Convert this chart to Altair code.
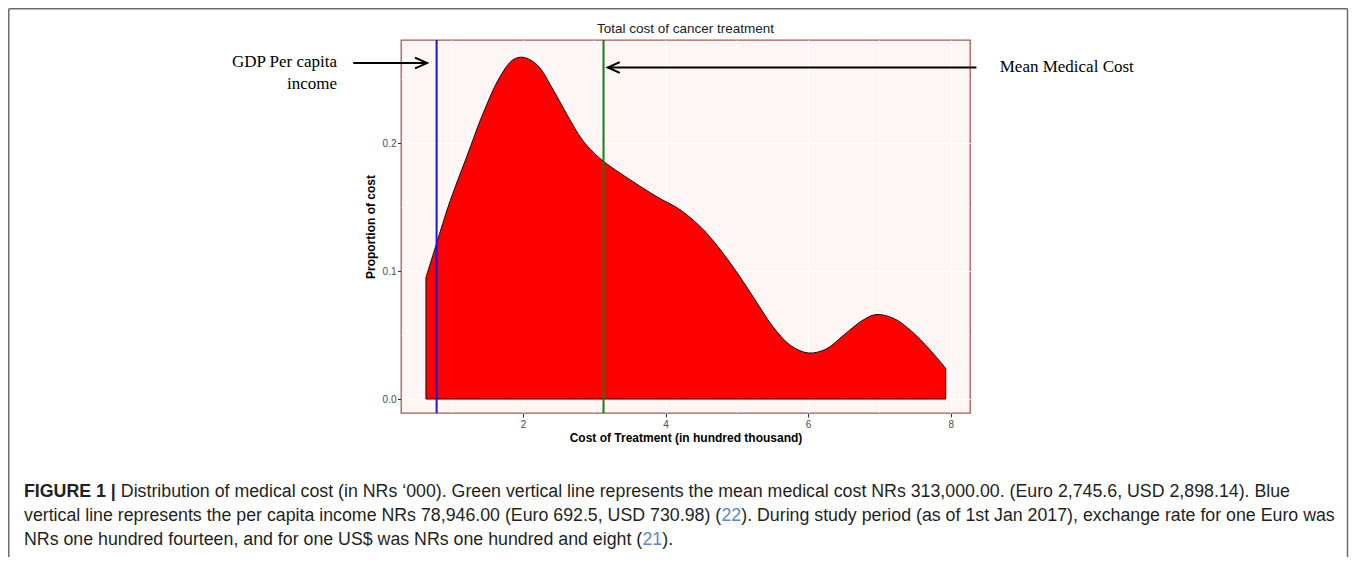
import altair as alt
import pandas as pd

# ---------------- data ----------------
cost_x = [0.64, 0.78, 0.98, 1.21, 1.44, 1.68, 1.86, 2.00, 2.20, 2.42, 2.62, 2.84,
          3.08, 3.54, 3.88, 4.20, 4.50, 4.75, 5.00, 5.25, 5.50, 5.75, 6.00,
          6.25, 6.50, 6.75, 6.95, 7.20, 7.45, 7.70, 7.93]
density = [0.095, 0.120, 0.155, 0.189, 0.223, 0.252, 0.265, 0.267, 0.261, 0.242, 0.222, 0.202,
           0.188, 0.170, 0.158, 0.148, 0.134, 0.118, 0.099, 0.078, 0.057, 0.042, 0.036,
           0.039, 0.050, 0.061, 0.066, 0.063, 0.053, 0.039, 0.024]
gdp_income = [0.78946]
mean_cost = [3.13]
x_ticks = [2, 4, 6, 8]
y_ticks = [0.0, 0.1, 0.2]
x_minor = [1, 3, 5, 7]
y_minor = [0.05, 0.15, 0.25]

chart_title = "Total cost of cancer treatment"
x_title = "Cost of Treatment (in hundred thousand)"
y_title = "Proportion of cost"
gdp_label = ["GDP Per capita", "income"]
mean_label = ["Mean Medical Cost"]

caption_lines = [
    [("FIGURE 1 |", "bold", "ink"),
     (" Distribution of medical cost (in NRs \u2018000). Green vertical line represents the mean medical cost NRs 313,000.00. (Euro 2,745.6, USD 2,898.14). Blue", "normal", "ink")],
    [("vertical line represents the per capita income NRs 78,946.00 (Euro 692.5, USD 730.98) (", "normal", "ink"),
     ("22", "normal", "ref"),
     ("). During study period (as of 1st Jan 2017), exchange rate for one Euro was", "normal", "ink")],
    [("NRs one hundred fourteen, and for one US$ was NRs one hundred and eight (", "normal", "ink"),
     ("21", "normal", "ref"),
     (").", "normal", "ink")],
]

# ---------------- layout / style ----------------
W, H = 569, 373
PAD = {"left": 393, "top": 32, "right": 379, "bottom": 144}
X_DOMAIN = [0.29, 8.27]
Y_DOMAIN = [-0.0109, 0.2805]
SANS = "Liberation Sans"
SERIF = "Liberation Serif"
INK = "#231F20"
REF = "#5B87C5"

xs = alt.Scale(domain=X_DOMAIN, nice=False, zero=False)
ys = alt.Scale(domain=Y_DOMAIN, nice=False, zero=False)

# Helvetica/Arial advance widths (per 1000 em) for caption layout
REG = {" ": 278, "(": 333, ")": 333, ",": 278, ".": 278, "\u2018": 222, "$": 556, "|": 260, "-": 333}
for c in "0123456789":
    REG[c] = 556
REG.update(dict(zip("ABCDEFGHIJKLMNOPQRSTUVWXYZ",
                    [667, 667, 722, 722, 667, 611, 778, 722, 278, 500, 667, 556, 833, 722, 778, 667,
                     778, 722, 667, 611, 722, 667, 944, 667, 667, 611])))
REG.update(dict(zip("abcdefghijklmnopqrstuvwxyz",
                    [556, 556, 500, 556, 556, 278, 556, 556, 222, 222, 500, 222, 833, 556, 556, 556,
                     556, 333, 500, 278, 556, 500, 722, 500, 500, 500])))
BOLD = {" ": 278, "F": 611, "I": 278, "G": 778, "U": 722, "R": 722, "E": 667, "1": 556, "|": 280}


def em_width(s, bold=False):
    tbl = BOLD if bold else REG
    return sum(tbl.get(ch, 556) for ch in s) / 1000.0


line2_em = sum(em_width(t, w == "bold") for t, w, _ in caption_lines[1])
CAP_FS = 1311.0 / line2_em
CAP_X0 = 24 - 401
CAP_Y = [492 - 40, 516 - 40, 540 - 40]

x_axis = alt.Axis(values=x_ticks, format="d", title=x_title, grid=True, gridColor="white",
                  gridWidth=1.2, domain=False, tickColor="#333333", tickSize=4,
                  labelColor="#4D4D4D", labelFont=SANS, labelFontSize=10, labelPadding=2,
                  labelFlush=False, labelOverlap=False,
                  titleFont=SANS, titleFontSize=12, titleFontWeight="bold", titleColor="black",
                  titlePadding=3)
y_axis = alt.Axis(values=y_ticks, format=".1f", title=y_title, grid=True, gridColor="white",
                  gridWidth=1.2, domain=False, tickColor="#333333", tickSize=3.5,
                  labelColor="#4D4D4D", labelFont=SANS, labelFontSize=10, labelPadding=1.5,
                  labelFlush=False, labelOverlap=False,
                  titleFont=SANS, titleFontSize=12, titleFontWeight="bold", titleColor="black",
                  titlePadding=5)

layers = []

# density area (carries the axes)
dens_df = pd.DataFrame({"cost": cost_x, "density": density})
area = alt.Chart(dens_df).mark_area(
    fill="#FF0000", fillOpacity=1, stroke="#1a0a0a", strokeWidth=1, interpolate="catmull-rom"
).encode(
    x=alt.X("cost:Q", scale=xs, axis=x_axis),
    y=alt.Y("density:Q", scale=ys, axis=y_axis),
    y2=alt.datum(0),
)

# minor grid
layers.append(alt.Chart(pd.DataFrame({"cost": x_minor})).mark_rule(color="white", strokeWidth=0.6).encode(
    x=alt.X("cost:Q", scale=xs, axis=x_axis)))
layers.append(alt.Chart(pd.DataFrame({"density": y_minor})).mark_rule(color="white", strokeWidth=0.6).encode(
    y=alt.Y("density:Q", scale=ys, axis=y_axis)))
layers.append(area)

# vertical reference lines
layers.append(alt.Chart(pd.DataFrame({"cost": gdp_income})).mark_rule(color="#1414E6", strokeWidth=2).encode(
    x=alt.X("cost:Q", scale=xs, axis=x_axis)))
layers.append(alt.Chart(pd.DataFrame({"cost": mean_cost})).mark_rule(color="#1A7A1A", strokeWidth=2).encode(
    x=alt.X("cost:Q", scale=xs, axis=x_axis)))

# annotation arrows (data coordinates)
arrows = pd.DataFrame({"cost": [-0.38, 8.36], "x2": [0.655, 3.19], "density": [0.2625, 0.259]})
layers.append(alt.Chart(arrows).mark_rule(color="black", strokeWidth=2).encode(
    x=alt.X("cost:Q", scale=xs, axis=x_axis), x2="x2:Q", y=alt.Y("density:Q", scale=ys, axis=y_axis)))
head_r = pd.DataFrame({"cost": [0.655], "density": [0.2625]})
head_l = pd.DataFrame({"cost": [3.19], "density": [0.259]})
chev_r = "M -1 -0.45 L 0 0 L -1 0.45"
chev_l = "M 1 -0.45 L 0 0 L 1 0.45"
layers.append(alt.Chart(head_r).mark_point(shape=chev_r, filled=False, color="black", strokeWidth=2,
                                           size=576, opacity=1).encode(
    x=alt.X("cost:Q", scale=xs, axis=x_axis), y=alt.Y("density:Q", scale=ys, axis=y_axis)))
layers.append(alt.Chart(head_l).mark_point(shape=chev_l, filled=False, color="black", strokeWidth=2,
                                           size=576, opacity=1).encode(
    x=alt.X("cost:Q", scale=xs, axis=x_axis), y=alt.Y("density:Q", scale=ys, axis=y_axis)))

# annotation labels
gdp_df = pd.DataFrame({"t": gdp_label, "cost": [-0.607, -0.607], "density": [0.2633, 0.2461]})
layers.append(alt.Chart(gdp_df).mark_text(align="right", baseline="middle", font=SERIF, fontSize=17,
                                          color="black").encode(
    x=alt.X("cost:Q", scale=xs, axis=x_axis), y=alt.Y("density:Q", scale=ys, axis=y_axis), text="t:N"))
mean_df = pd.DataFrame({"t": mean_label, "cost": [8.687], "density": [0.2594]})
layers.append(alt.Chart(mean_df).mark_text(align="left", baseline="middle", font=SERIF, fontSize=17,
                                           color="black").encode(
    x=alt.X("cost:Q", scale=xs, axis=x_axis), y=alt.Y("density:Q", scale=ys, axis=y_axis), text="t:N"))

# plot title (as text so the outer frame does not push it away)
layers.append(alt.Chart(pd.DataFrame({"t": [chart_title]})).mark_text(
    align="center", baseline="middle", font=SANS, fontSize=13.5, color="#222222").encode(
    x=alt.value(W / 2), y=alt.value(-11), text="t:N"))

# caption
for li, segs in enumerate(caption_lines):
    cx = CAP_X0
    for text, weight, col in segs:
        lead = len(text) - len(text.lstrip(" "))
        cx += em_width(text[:lead]) * CAP_FS
        body = text.lstrip(" ")
        layers.append(alt.Chart(pd.DataFrame({"t": [body]})).mark_text(
            align="left", baseline="middle", font=SANS, fontSize=CAP_FS,
            fontWeight=weight, color=(INK if col == "ink" else REF)).encode(
            x=alt.value(cx), y=alt.value(CAP_Y[li]), text="t:N"))
        cx += em_width(body, weight == "bold") * CAP_FS

# outer figure frame
FRAME_L, FRAME_T, FRAME_R, FRAME_B = -392.25, -31.25, 946.5, 520
frame = pd.DataFrame({"k": [0]})
layers.append(alt.Chart(frame).mark_rule(color="#6B6B6B", strokeWidth=1.5).encode(
    x=alt.value(FRAME_L), y=alt.value(FRAME_T), y2=alt.value(FRAME_B)))
layers.append(alt.Chart(frame).mark_rule(color="#6B6B6B", strokeWidth=1.5).encode(
    x=alt.value(FRAME_R), y=alt.value(FRAME_T), y2=alt.value(FRAME_B)))
layers.append(alt.Chart(frame).mark_rule(color="#6B6B6B", strokeWidth=1.5).encode(
    x=alt.value(FRAME_L), x2=alt.value(FRAME_R), y=alt.value(FRAME_T)))

chart = alt.layer(*layers).properties(
    width=W, height=H, padding=PAD, autosize=alt.AutoSizeParams(type="none"),
    background="white",
).configure_view(fill="#FDF6F5", stroke="#A85A55", strokeWidth=1.3)

chart.save("out.html", embed_options={"renderer": "svg", "actions": False})
